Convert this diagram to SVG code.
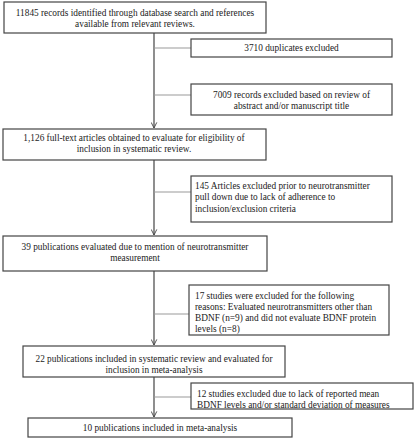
<svg xmlns="http://www.w3.org/2000/svg" width="417" height="440" viewBox="0 0 417 440">
<defs>
<style>
.box{fill:#fff;stroke:#444;stroke-width:1.2}
.t{font-family:"Liberation Serif","Times New Roman",serif;font-size:9.3px;fill:#222}
.c{text-anchor:middle}
.main{stroke:#444;stroke-width:1.2;fill:none}
.side{stroke:#999;stroke-width:1;fill:none}
</style>
<marker id="arr" viewBox="0 0 10 10" refX="9" refY="5" markerWidth="7" markerHeight="7" orient="auto" markerUnits="userSpaceOnUse">
<path d="M1,1 L9,5 L1,9" fill="none" stroke="#444" stroke-width="1.3"/>
</marker>
</defs>
<rect width="417" height="440" fill="#fff"/>
<g id="connectors">
<line class="main" x1="154" y1="33" x2="154" y2="128" marker-end="url(#arr)"/>
<line class="main" x1="154" y1="160" x2="154" y2="235" marker-end="url(#arr)"/>
<line class="main" x1="154" y1="271" x2="154" y2="345" marker-end="url(#arr)"/>
<line class="main" x1="154" y1="377" x2="154" y2="417" marker-end="url(#arr)"/>
<line class="side" x1="154" y1="48" x2="191" y2="48"/>
<line class="side" x1="154" y1="95" x2="191" y2="95"/>
<line class="side" x1="154" y1="192" x2="191" y2="192"/>
<line class="side" x1="154" y1="314" x2="189" y2="314"/>
<line class="side" x1="154" y1="397" x2="191" y2="397"/>
</g>
<g id="n1">
<rect class="box" x="4" y="2" width="262" height="31"/>
<text class="t c" x="135" y="16">11845 records identified through database search and references</text>
<text class="t c" x="135" y="27">available from relevant reviews.</text>
</g>
<g id="n2">
<rect class="box" x="191" y="39" width="201" height="18"/>
<text class="t c" x="291.5" y="51">3710 duplicates excluded</text>
</g>
<g id="n3">
<rect class="box" x="191" y="84" width="201" height="31"/>
<text class="t c" x="291.5" y="98">7009 records excluded based on review of</text>
<text class="t c" x="291.5" y="109">abstract and/or manuscript title</text>
</g>
<g id="n4">
<rect class="box" x="3" y="129" width="263" height="31"/>
<text class="t c" x="134" y="141">1,126 full-text articles obtained to evaluate for eligibility of</text>
<text class="t c" x="134" y="152">inclusion in systematic review.</text>
</g>
<g id="n5">
<rect class="box" x="191" y="176" width="201" height="46"/>
<text class="t" x="195" y="189">145 Articles excluded prior to neurotransmitter</text>
<text class="t" x="195" y="200">pull down due to lack of adherence to</text>
<text class="t" x="195" y="212">inclusion/exclusion criteria</text>
</g>
<g id="n6">
<rect class="box" x="3" y="236" width="264" height="35"/>
<text class="t c" x="135" y="250">39 publications evaluated due to mention of neurotransmitter</text>
<text class="t c" x="135" y="261">measurement</text>
</g>
<g id="n7">
<rect class="box" x="189" y="285" width="200" height="50"/>
<text class="t" x="195" y="299">17 studies were excluded for the following</text>
<text class="t" x="195" y="310">reasons: Evaluated neurotransmitters other than</text>
<text class="t" x="195" y="321">BDNF (n=9) and did not evaluate BDNF protein</text>
<text class="t" x="195" y="332">levels (n=8)</text>
</g>
<g id="n8">
<rect class="box" x="23" y="346" width="262" height="31"/>
<text class="t c" x="154" y="362">22 publications included in systematic review and evaluated for</text>
<text class="t c" x="154" y="373">inclusion in meta-analysis</text>
</g>
<g id="n9">
<rect class="box" x="191" y="383" width="222" height="26"/>
<text class="t" x="197" y="397">12 studies excluded due to lack of reported mean</text>
<text class="t" x="197" y="408">BDNF levels and/or standard deviation of measures</text>
</g>
<g id="n10">
<rect class="box" x="28" y="418" width="264" height="19"/>
<text class="t c" x="160" y="431">10 publications included in meta-analysis</text>
</g>
</svg>
